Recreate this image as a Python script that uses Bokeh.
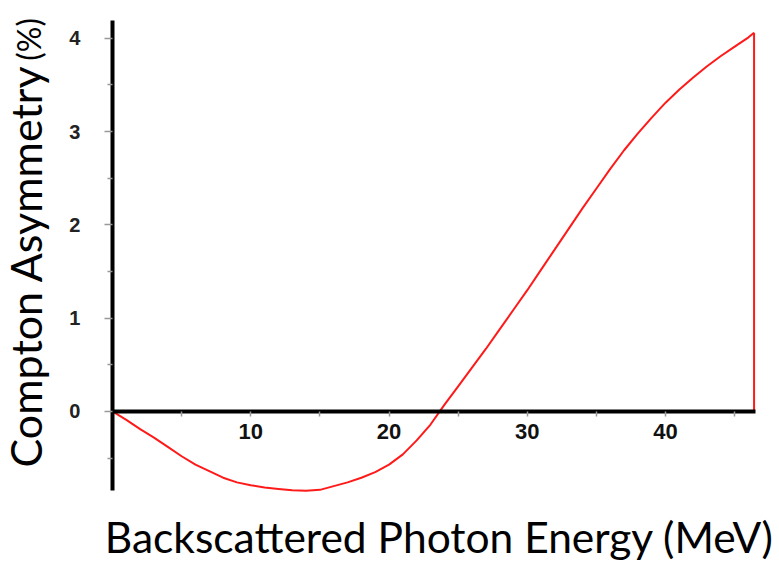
import math
from bokeh.plotting import figure
from bokeh.models import LinearAxis, FixedTicker, Range1d
from bokeh.core.properties import value
from bokeh.embed import file_html
from bokeh.resources import INLINE

# Data
energy = [0, 1, 2, 3, 4, 5, 6, 7, 8, 9, 10, 11, 12, 13, 14, 15, 16, 17, 18,
          19, 20, 21, 22, 23, 24, 25, 26, 27, 28, 29, 30, 31, 32, 33, 34, 35,
          36, 37, 38, 39, 40, 41, 42, 43, 44, 45, 46, 46.4]
asym = [0.0, -0.09, -0.19, -0.28, -0.38, -0.48, -0.57, -0.64, -0.71, -0.76,
        -0.79, -0.815, -0.83, -0.845, -0.85, -0.84, -0.80, -0.76, -0.71,
        -0.65, -0.57, -0.46, -0.31, -0.14, 0.07, 0.27, 0.47, 0.67, 0.88,
        1.09, 1.30, 1.52, 1.74, 1.96, 2.18, 2.39, 2.60, 2.80, 2.98, 3.15,
        3.31, 3.45, 3.58, 3.70, 3.81, 3.91, 4.01, 4.06]

x_ticks = [10, 20, 30, 40]
x_minor = [5, 15, 25, 35, 45]
y_ticks = [0, 1, 2, 3, 4]
y_minor = [-0.5, 0.5, 1.5, 2.5, 3.5]
x_axis_span = (0, 46.5)
y_axis_span = (-0.85, 4.19)

x_title = "Backscattered Photon Energy (MeV)"
y_title = "Compton Asymmetry"
y_unit = "(%)"

p = figure(frame_width=779, frame_height=561,
           x_range=Range1d(-8.10, 48.24), y_range=Range1d(-1.608, 4.405),
           output_backend="svg", toolbar_location=None,
           x_axis_location=None, y_axis_location=None,
           min_border=0)
p.outline_line_color = None
p.grid.visible = False
p.background_fill_color = "white"
p.border_fill_color = "white"

red = "#ff1a1a"
p.line(energy, asym, line_color=red, line_width=2)
p.segment(x0=[energy[-1]], y0=[0], x1=[energy[-1]], y1=[asym[-1]],
          line_color=red, line_width=2)

yaxis = LinearAxis(fixed_location=0, bounds=y_axis_span,
                   ticker=FixedTicker(ticks=y_ticks, minor_ticks=y_minor))
yaxis.axis_line_width = 4
yaxis.axis_line_color = "black"
yaxis.major_tick_line_color = "#999999"
yaxis.major_tick_line_width = 1.5
yaxis.major_tick_out = 8
yaxis.major_tick_in = 0
yaxis.minor_tick_line_color = "#999999"
yaxis.minor_tick_line_width = 1.5
yaxis.minor_tick_out = 5
yaxis.minor_tick_in = 0
yaxis.major_label_text_font = "Liberation Sans"
yaxis.major_label_text_font_size = "20px"
yaxis.major_label_text_font_style = "bold"
yaxis.major_label_text_color = "#222222"
yaxis.major_label_standoff = 24
p.add_layout(yaxis, "left")

xaxis = LinearAxis(fixed_location=0, bounds=x_axis_span,
                   ticker=FixedTicker(ticks=x_ticks, minor_ticks=x_minor))
xaxis.axis_line_width = 4
xaxis.axis_line_color = "black"
xaxis.major_tick_line_color = "#999999"
xaxis.major_tick_line_width = 1.5
xaxis.major_tick_out = 5
xaxis.major_tick_in = 0
xaxis.minor_tick_line_color = "#999999"
xaxis.minor_tick_line_width = 1.5
xaxis.minor_tick_out = 5
xaxis.minor_tick_in = 0
xaxis.major_label_text_font = "Liberation Sans"
xaxis.major_label_text_font_size = "22px"
xaxis.major_label_text_font_style = "bold"
xaxis.major_label_text_color = "#111111"
xaxis.major_label_standoff = 8
p.add_layout(xaxis, "below")

# titles as text glyphs placed in data coordinates
p.text(x=[23.64], y=[-1.34], text=[x_title], text_font=value("Lato"),
       text_font_size="42.5px", text_align="center",
       text_baseline="alphabetic", text_color="black")
p.text(x=[-6.30], y=[-0.60], text=[y_title], angle=math.pi / 2,
       text_font=value("Lato"), text_font_size="43px", text_align="left",
       text_baseline="alphabetic", text_color="black")
p.text(x=[-6.08], y=[3.76], text=[y_unit], angle=math.pi / 2,
       text_font=value("Lato"), text_font_size="32px", text_align="left",
       text_baseline="alphabetic", text_color="black")

open("out.html", "w").write(file_html(p, INLINE))
